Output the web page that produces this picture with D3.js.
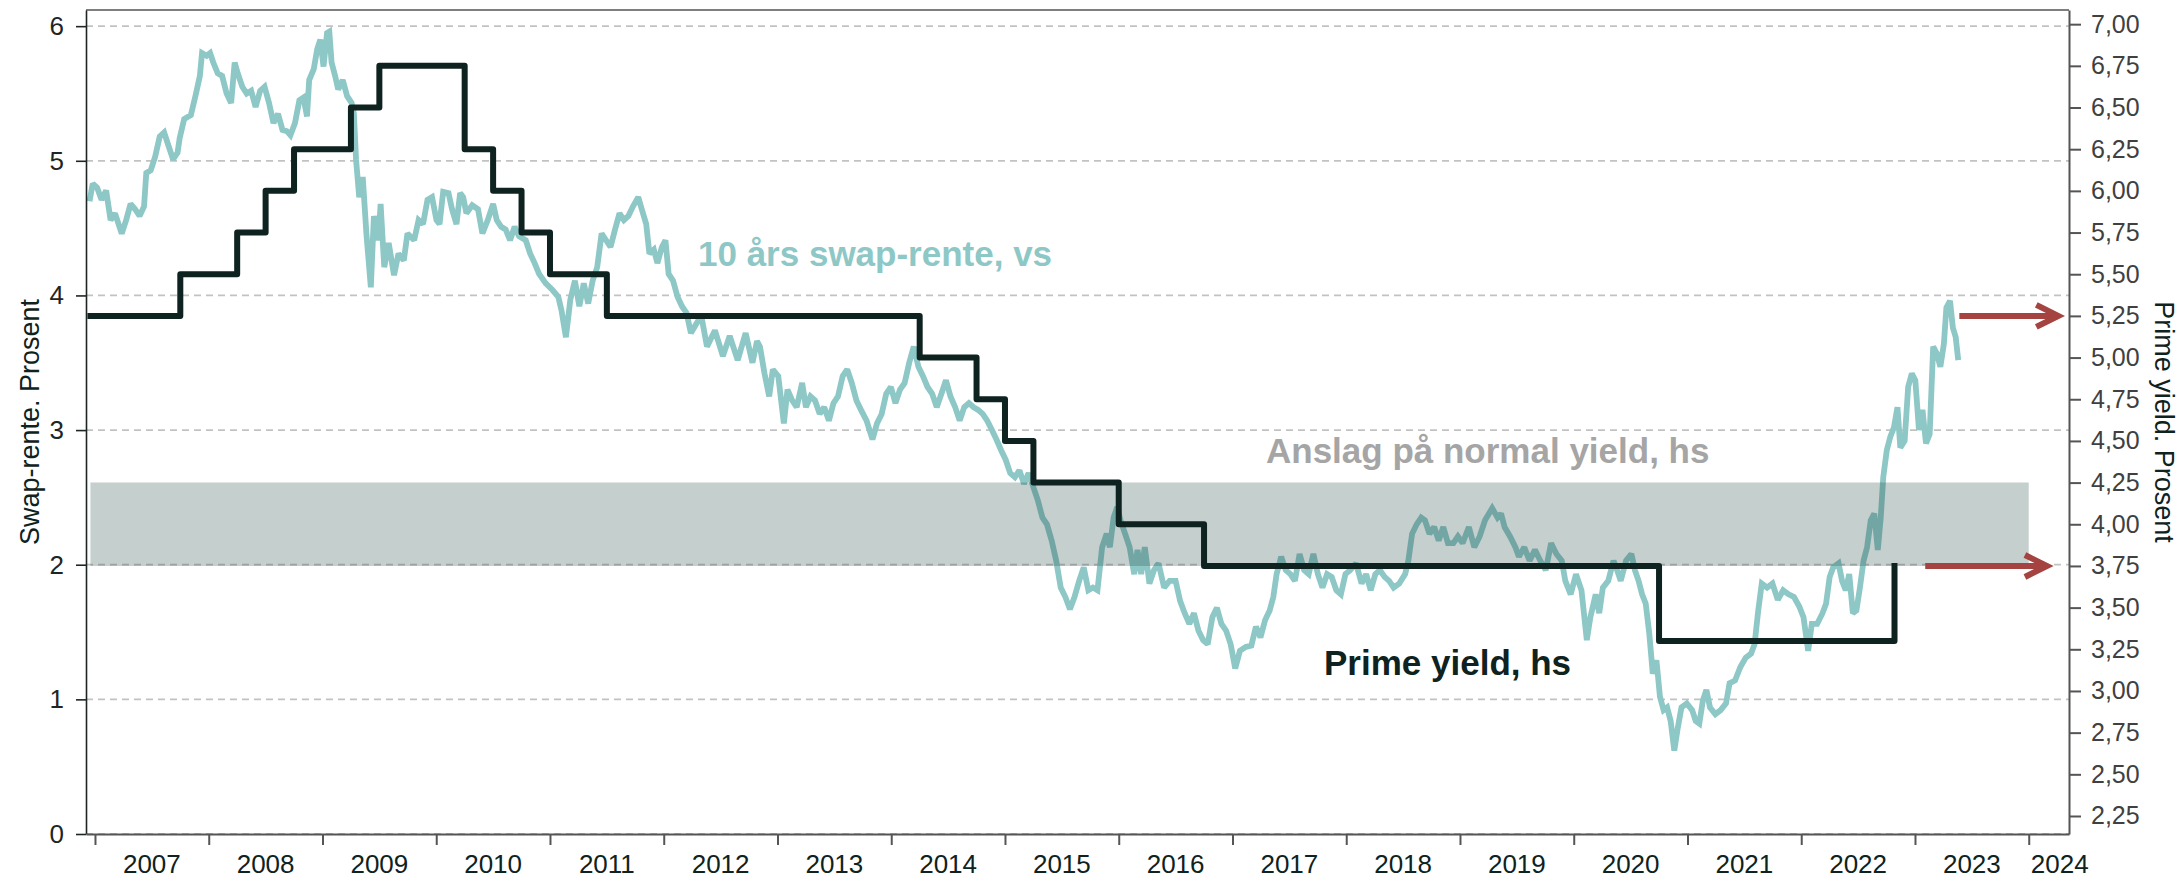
<!DOCTYPE html>
<html>
<head>
<meta charset="utf-8">
<script src="https://cdn.jsdelivr.net/npm/d3@7"></script>
<style>
    body { margin: 0; background: #ffffff; }
    svg { display: block; font-family: Arial, "Liberation Sans", sans-serif; }
    .grid-line { stroke: #c2c2c2; stroke-width: 1.8; stroke-dasharray: 7 5; }
    .swap-line { fill: none; stroke: #8dc7c6; stroke-width: 5.8; stroke-linejoin: miter; stroke-miterlimit: 2; }
    .prime-line { fill: none; stroke: #0e2220; stroke-width: 6; stroke-linejoin: round; stroke-linecap: square; }
    .band { fill: #2f544b; fill-opacity: 0.28; }
    .arrow { fill: none; stroke: #a4433f; stroke-width: 6; }
    .label-big { font-weight: bold; font-size: 35px; }
    .axis-title { font-size: 27px; fill: #0e2220; }
    .year-label { font-size: 26px; fill: #0e2220; text-anchor: middle; }
</style>
</head>
<body>
<div id="chart"></div>
<script>
//////////////////////////////////////////////////////////////
//////////////////////// Data ////////////////////////////////
//////////////////////////////////////////////////////////////

//10 year swap rate (left axis), decimal year + percent
const swapTime = [
    2006.952,2006.980,2007.019,2007.058,2007.098,2007.137,2007.176,2007.235,2007.274,2007.313,
    2007.353,2007.392,2007.431,2007.451,2007.490,2007.529,2007.569,2007.608,2007.647,2007.686,
    2007.726,2007.745,2007.784,2007.843,2007.883,2007.922,2007.941,2007.981,2008.012,2008.040,
    2008.079,2008.118,2008.157,2008.197,2008.228,2008.255,2008.295,2008.334,2008.373,2008.412,
    2008.452,2008.491,2008.530,2008.569,2008.609,2008.648,2008.687,2008.718,2008.758,2008.797,
    2008.832,2008.864,2008.883,2008.923,2008.954,2008.981,2009.009,2009.040,2009.060,2009.080,
    2009.111,2009.138,2009.178,2009.217,2009.256,2009.276,2009.295,2009.323,2009.354,2009.386,
    2009.425,2009.452,2009.492,2009.511,2009.543,2009.582,2009.629,2009.668,2009.715,2009.747,
    2009.806,2009.845,2009.884,2009.923,2009.963,2010.002,2010.029,2010.061,2010.108,2010.139,
    2010.178,2010.210,2010.237,2010.265,2010.316,2010.367,2010.406,2010.453,2010.500,2010.532,
    2010.571,2010.610,2010.649,2010.689,2010.728,2010.787,2010.826,2010.865,2010.904,2010.963,
    2011.022,2011.073,2011.101,2011.140,2011.179,2011.219,2011.258,2011.297,2011.336,2011.375,
    2011.415,2011.454,2011.493,2011.532,2011.572,2011.611,2011.650,2011.689,2011.729,2011.776,
    2011.807,2011.846,2011.874,2011.913,2011.944,2011.984,2012.015,2012.043,2012.082,2012.121,
    2012.160,2012.200,2012.239,2012.280,2012.330,2012.380,2012.450,2012.520,2012.580,2012.650,
    2012.720,2012.780,2012.820,2012.846,2012.886,2012.927,2012.959,2013.007,2013.056,2013.088,
    2013.129,2013.169,2013.217,2013.250,2013.290,2013.330,2013.371,2013.411,2013.452,2013.492,
    2013.532,2013.573,2013.613,2013.653,2013.694,2013.734,2013.783,2013.835,2013.875,2013.916,
    2013.956,2013.997,2014.037,2014.077,2014.118,2014.158,2014.198,2014.239,2014.279,2014.319,
    2014.360,2014.400,2014.441,2014.481,2014.521,2014.562,2014.602,2014.642,2014.683,2014.723,
    2014.764,2014.804,2014.844,2014.885,2014.925,2014.966,2015.006,2015.046,2015.087,2015.127,
    2015.167,2015.208,2015.248,2015.288,2015.329,2015.369,2015.410,2015.450,2015.490,2015.531,
    2015.571,2015.611,2015.652,2015.692,2015.733,2015.773,2015.813,2015.854,2015.894,2015.922,
    2015.955,2015.987,2016.015,2016.056,2016.096,2016.136,2016.165,2016.197,2016.229,2016.270,
    2016.310,2016.350,2016.399,2016.447,2016.500,2016.540,2016.580,2016.621,2016.661,2016.701,
    2016.742,2016.782,2016.823,2016.863,2016.903,2016.944,2016.984,2017.024,2017.065,2017.117,
    2017.166,2017.206,2017.246,2017.287,2017.327,2017.359,2017.388,2017.428,2017.468,2017.509,
    2017.549,2017.590,2017.630,2017.670,2017.711,2017.751,2017.791,2017.832,2017.872,2017.913,
    2017.953,2017.993,2018.034,2018.086,2018.135,2018.175,2018.215,2018.256,2018.296,2018.337,
    2018.377,2018.417,2018.466,2018.518,2018.546,2018.579,2018.619,2018.659,2018.692,2018.732,
    2018.773,2018.813,2018.853,2018.894,2018.942,2018.982,2019.023,2019.078,2019.126,2019.173,
    2019.220,2019.283,2019.330,2019.361,2019.392,2019.440,2019.487,2019.518,2019.565,2019.612,
    2019.659,2019.706,2019.754,2019.801,2019.848,2019.895,2019.926,2019.973,2020.020,2020.068,
    2020.115,2020.146,2020.193,2020.224,2020.256,2020.303,2020.350,2020.381,2020.413,2020.460,
    2020.507,2020.538,2020.570,2020.601,2020.633,2020.664,2020.695,2020.727,2020.758,2020.790,
    2020.821,2020.852,2020.884,2020.915,2020.947,2020.994,2021.041,2021.072,2021.104,2021.135,
    2021.166,2021.198,2021.245,2021.292,2021.339,2021.370,2021.418,2021.465,2021.512,2021.559,
    2021.590,2021.622,2021.653,2021.700,2021.747,2021.794,2021.841,2021.889,2021.936,2021.983,
    2022.020,2022.061,2022.093,2022.140,2022.187,2022.218,2022.250,2022.281,2022.328,2022.359,
    2022.391,2022.422,2022.454,2022.485,2022.516,2022.548,2022.579,2022.611,2022.642,2022.673,
    2022.699,2022.721,2022.752,2022.783,2022.815,2022.846,2022.871,2022.909,2022.940,2022.972,
    2023.003,2023.035,2023.066,2023.097,2023.129,2023.160,2023.191,2023.223,2023.254,2023.276,
    2023.308,2023.333,2023.358,2023.380
]
const swapRate = [
    4.70,4.83,4.80,4.71,4.78,4.56,4.61,4.46,4.56,4.68,
    4.64,4.59,4.66,4.91,4.93,5.03,5.18,5.21,5.11,5.01,
    5.06,5.17,5.31,5.34,5.48,5.63,5.80,5.78,5.80,5.73,
    5.65,5.63,5.50,5.43,5.73,5.65,5.55,5.50,5.52,5.40,
    5.52,5.55,5.43,5.28,5.35,5.23,5.22,5.19,5.28,5.45,
    5.47,5.33,5.60,5.68,5.83,5.90,5.70,5.95,5.96,5.73,
    5.63,5.53,5.60,5.48,5.43,5.35,5.01,4.73,4.88,4.46,
    4.06,4.59,4.41,4.68,4.21,4.39,4.15,4.31,4.26,4.46,
    4.41,4.56,4.53,4.71,4.73,4.56,4.53,4.77,4.76,4.64,
    4.53,4.76,4.73,4.61,4.67,4.64,4.46,4.56,4.68,4.56,
    4.51,4.49,4.41,4.51,4.44,4.41,4.31,4.24,4.16,4.09,
    4.04,3.99,3.89,3.69,3.97,4.11,3.92,4.09,3.94,4.11,
    4.21,4.46,4.41,4.36,4.49,4.61,4.56,4.59,4.66,4.73,
    4.64,4.53,4.31,4.34,4.24,4.36,4.41,4.16,4.11,3.99,
    3.92,3.87,3.72,3.78,3.85,3.62,3.74,3.55,3.70,3.52,
    3.72,3.50,3.66,3.62,3.42,3.25,3.45,3.40,3.05,3.30,
    3.22,3.17,3.35,3.17,3.25,3.22,3.12,3.17,3.07,3.20,
    3.25,3.40,3.45,3.35,3.22,3.15,3.07,2.93,3.05,3.12,
    3.27,3.32,3.20,3.30,3.35,3.50,3.62,3.47,3.40,3.32,
    3.27,3.17,3.27,3.37,3.25,3.17,3.07,3.17,3.20,3.17,
    3.15,3.12,3.07,3.00,2.93,2.85,2.78,2.68,2.65,2.70,
    2.60,2.68,2.58,2.48,2.35,2.30,2.18,2.03,1.83,1.76,
    1.67,1.76,1.88,1.98,1.81,1.83,1.81,2.13,2.23,2.13,
    2.35,2.43,2.33,2.23,2.13,1.93,2.11,1.93,2.13,1.86,
    1.96,2.01,1.83,1.88,1.88,1.73,1.64,1.56,1.64,1.51,
    1.44,1.41,1.61,1.68,1.56,1.51,1.41,1.23,1.36,1.39,
    1.40,1.54,1.46,1.59,1.66,1.76,1.93,2.06,1.96,1.93,
    1.88,2.08,1.96,1.93,2.08,1.93,1.83,1.93,1.91,1.81,
    1.78,1.93,1.96,2.01,1.86,1.93,1.81,1.93,1.96,1.91,
    1.88,1.83,1.86,1.93,2.03,2.23,2.30,2.35,2.33,2.23,
    2.28,2.18,2.28,2.16,2.16,2.21,2.16,2.28,2.13,2.21,
    2.33,2.42,2.35,2.38,2.28,2.21,2.13,2.06,2.13,2.03,
    2.11,2.03,1.96,2.16,2.08,2.03,1.88,1.78,1.93,1.81,
    1.44,1.61,1.78,1.64,1.83,1.88,2.03,1.96,1.88,2.03,
    2.08,1.96,1.88,1.78,1.71,1.49,1.19,1.29,1.02,0.92,
    0.94,0.84,0.62,0.79,0.94,0.97,0.92,0.84,0.82,0.99,
    1.07,0.94,0.89,0.92,0.97,1.12,1.14,1.24,1.31,1.34,
    1.41,1.66,1.86,1.83,1.86,1.74,1.81,1.78,1.76,1.69,
    1.61,1.36,1.56,1.56,1.64,1.71,1.91,1.98,2.01,1.88,
    1.81,1.93,1.64,1.66,1.83,2.03,2.13,2.33,2.38,2.11,
    2.35,2.65,2.85,2.95,3.02,3.17,2.87,2.92,3.32,3.42,
    3.37,3.00,3.15,2.90,2.97,3.62,3.57,3.47,3.64,3.91,
    3.96,3.76,3.69,3.52
]

//Prime yield (right axis), value holds from each date to the next
const primeTime = [2006.96, 2007.75, 2008.25, 2008.5, 2008.75, 2009.25, 2009.5, 2010.25, 2010.5, 2010.75,
                   2011.0, 2011.5, 2014.25, 2014.75, 2015.0, 2015.25, 2016.0, 2016.75, 2020.75, 2022.82]
const primeYield = [5.25, 5.5, 5.75, 6.0, 6.25, 6.5, 6.75, 6.25, 6.0, 5.75,
                    5.5, 5.25, 5.0, 4.75, 4.5, 4.25, 4.0, 3.75, 3.3, 3.75]

//Estimate of normal yield (right axis)
const normalBandTime = [2006.96, 2024.0]
const normalBandLow = 3.75
const normalBandHigh = 4.25

//Arrows pointing at the right axis
const arrowLevels = [5.25, 3.75]
const arrowFrom = [2023.39, 2023.09]
const arrowTo = [2024.26, 2024.16]

//Ticks
const leftTicks = [0, 1, 2, 3, 4, 5, 6]
const rightTicks = d3.range(2.25, 7.01, 0.25)
const yearTicks = d3.range(2007, 2025)

//////////////////////////////////////////////////////////////
//////////////////////// Create SVG //////////////////////////
//////////////////////////////////////////////////////////////

const width = 2179
const height = 878
const plot = { left: 86, right: 2069, top: 10, bottom: 834 }

const svg = d3.select("#chart")
    .append("svg")
    .attr("width", width)
    .attr("height", height)

//////////////////////////////////////////////////////////////
//////////////////////// Scales //////////////////////////////
//////////////////////////////////////////////////////////////

const x = d3.scaleLinear()
    .domain([2006.921, 2024.354])
    .range([plot.left, plot.right])

const yLeft = d3.scaleLinear()
    .domain([0, 6.12])
    .range([plot.bottom, plot.top])

const yRight = d3.scaleLinear()
    .domain([2.142, 7.085])
    .range([plot.bottom, plot.top])

//////////////////////////////////////////////////////////////
//////////////////////// Gridlines ///////////////////////////
//////////////////////////////////////////////////////////////

svg.append("g")
    .attr("class", "grid")
    .selectAll("line")
    .data(leftTicks)
    .enter().append("line")
    .attr("class", "grid-line")
    .attr("x1", plot.left)
    .attr("x2", plot.right)
    .attr("y1", d => yLeft(d))
    .attr("y2", d => yLeft(d))

//////////////////////////////////////////////////////////////
//////////////////////// Lines and band //////////////////////
//////////////////////////////////////////////////////////////

const swapData = swapTime.map((t, i) => ({ t: t, v: swapRate[i] }))
const primeData = primeTime.map((t, i) => ({ t: t, v: primeYield[i] }))

const swapLine = d3.line()
    .x(d => x(d.t))
    .y(d => yLeft(d.v))

svg.append("path")
    .datum(swapData)
    .attr("class", "swap-line")
    .attr("d", swapLine)

//Band sits on top of the swap line (semi transparent)
const bandArea = d3.area()
    .x(d => x(d))
    .y0(yRight(normalBandLow))
    .y1(yRight(normalBandHigh))

svg.append("path")
    .datum(normalBandTime)
    .attr("class", "band")
    .attr("d", bandArea)

const primeLine = d3.line()
    .x(d => x(d.t))
    .y(d => yRight(d.v))
    .curve(d3.curveStepAfter)

svg.append("path")
    .datum(primeData)
    .attr("class", "prime-line")
    .attr("d", primeLine)

//////////////////////////////////////////////////////////////
//////////////////////// Axes ////////////////////////////////
//////////////////////////////////////////////////////////////

//Top border
svg.append("line")
    .attr("x1", plot.left).attr("x2", plot.right)
    .attr("y1", plot.top).attr("y2", plot.top)
    .style("stroke", "#7f7f7f")
    .style("stroke-width", 2)

const leftAxis = svg.append("g")
    .attr("transform", "translate(" + plot.left + ",0)")
    .call(d3.axisLeft(yLeft).tickValues(leftTicks).tickSize(10).tickSizeOuter(0).tickPadding(12).tickFormat(d3.format("d")))
leftAxis.selectAll(".domain, .tick line").style("stroke", "#1e2624").style("stroke-width", 1.6)
leftAxis.selectAll("text").style("font-size", "26px").style("font-family", "inherit").style("fill", "#1e2624")

const rightAxis = svg.append("g")
    .attr("transform", "translate(" + plot.right + ",0)")
    .call(d3.axisRight(yRight).tickValues(rightTicks).tickSize(12).tickSizeOuter(0).tickPadding(10)
        .tickFormat(d => d.toFixed(2).replace(".", ",")))
rightAxis.selectAll(".domain, .tick line").style("stroke", "#555555").style("stroke-width", 2)
rightAxis.selectAll("text").style("font-size", "25px").style("font-family", "inherit").style("fill", "#404040")

const bottomAxis = svg.append("g")
    .attr("transform", "translate(0," + plot.bottom + ")")
    .call(d3.axisBottom(x).tickValues(yearTicks).tickSize(11).tickSizeOuter(0).tickFormat(""))
bottomAxis.selectAll(".domain, .tick line").style("stroke", "#555555").style("stroke-width", 2)

//Year labels centred on each year, kept right of its own tick
svg.append("g")
    .selectAll("text")
    .data(yearTicks)
    .enter().append("text")
    .attr("class", "year-label")
    .attr("x", d => {
        const mid = (x(d) + x(Math.min(d + 1, x.domain()[1]))) / 2
        return Math.max(mid, x(d) + 31)
    })
    .attr("y", 873)
    .text(d => d)

//Axis titles
svg.append("text")
    .attr("class", "axis-title")
    .attr("transform", "translate(39," + (plot.top + plot.bottom) / 2 + ") rotate(-90)")
    .attr("text-anchor", "middle")
    .text("Swap-rente. Prosent")

svg.append("text")
    .attr("class", "axis-title")
    .attr("transform", "translate(2155," + (plot.top + plot.bottom) / 2 + ") rotate(90)")
    .attr("text-anchor", "middle")
    .text("Prime yield. Prosent")

//////////////////////////////////////////////////////////////
//////////////////////// Labels and arrows ///////////////////
//////////////////////////////////////////////////////////////

svg.append("text")
    .attr("class", "label-big")
    .attr("x", 698).attr("y", 266)
    .style("fill", "#8dc7c6")
    .text("10 års swap-rente, vs")

svg.append("text")
    .attr("class", "label-big")
    .attr("x", 1266).attr("y", 463)
    .style("fill", "#a5a5a5")
    .text("Anslag på normal yield, hs")

svg.append("text")
    .attr("class", "label-big")
    .attr("x", 1324).attr("y", 675)
    .style("fill", "#0e2220")
    .text("Prime yield, hs")

const arrows = svg.append("g").attr("class", "arrow-group")
arrowLevels.forEach((lvl, i) => {
    const y = yRight(lvl)
    const x0 = x(arrowFrom[i])
    const x1 = x(arrowTo[i])
    arrows.append("path")
        .attr("class", "arrow")
        .attr("d", "M" + [x0, y] + " L" + [x1 - 3, y])
    arrows.append("path")
        .attr("class", "arrow")
        .attr("d", "M" + [x1 - 22, y - 11] + " L" + [x1, y] + " L" + [x1 - 22, y + 11])
})
</script>
</body>
</html>
